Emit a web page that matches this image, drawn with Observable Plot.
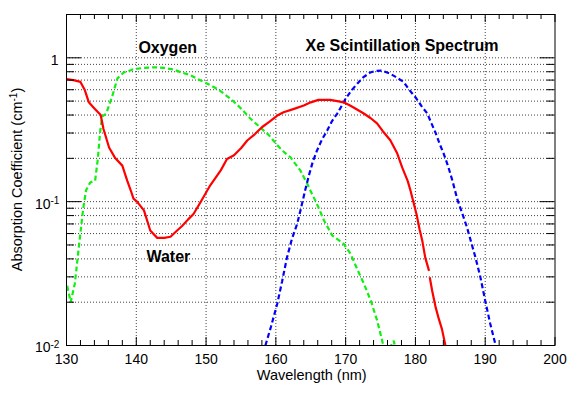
<!DOCTYPE html>
<html><head><meta charset="utf-8">
<script src="https://cdn.jsdelivr.net/npm/d3@7"></script>
<script src="https://cdn.jsdelivr.net/npm/@observablehq/plot@0.6"></script>
<style>body{margin:0;background:#fff} svg{display:block}</style>
</head><body><div id="chart"></div>
<script>
// ---- data (wavelength nm, absorption coefficient cm^-1) ----
const waterNm  = [130.0,131.0,132.0,132.6,133.2,133.9,134.9,135.3,136.1,137.0,138.0,138.7,139.2,139.6,140.1,141.1,142.0,143.0,144.0,144.9,145.7,146.6,147.4,148.2,149.2,150.6,152.1,153.0,154.0,155.0,155.9,157.0,158.0,159.1,160.2,161.1,162.5,164.0,165.0,166.1,167.8,168.8,169.7,170.5,171.2,172.6,173.6,174.5,175.3,176.4,177.4,178.1,178.9,179.3,179.7,180.2,180.6,181.0,181.4,181.95,NaN,182.05,182.4,182.9,183.35,183.8,184.3];
const waterAbs = [0.71,0.70,0.68,0.60,0.49,0.45,0.40,0.32,0.238,0.20,0.178,0.14,0.12,0.105,0.10,0.087,0.063,0.056,0.056,0.057,0.062,0.068,0.075,0.082,0.099,0.13,0.165,0.198,0.21,0.235,0.266,0.295,0.329,0.36,0.397,0.418,0.44,0.466,0.49,0.51,0.51,0.50,0.49,0.47,0.45,0.41,0.38,0.35,0.31,0.267,0.216,0.173,0.139,0.119,0.10,0.08,0.064,0.053,0.041,0.033,NaN,0.0298,0.024,0.0184,0.0153,0.013,0.01];

const oxygenNm  = [130.1,130.6,131.2,131.8,132.4,132.8,133.4,134.1,134.5,134.8,135.1,135.7,136.6,137.3,138.2,139.5,141.0,142.5,144.0,145.3,146.5,147.7,149.1,150.5,152.0,153.5,154.9,156.3,157.7,159.0,160.1,161.0,162.1,163.5,164.5,165.0,165.9,166.9,168.1,169.7,170.7,171.65,172.6,173.6,174.5,175.2,175.5,176.2,176.9,177.1];
const oxygenAbs = [0.026,0.020,0.027,0.05,0.09,0.12,0.136,0.14,0.2,0.3,0.39,0.41,0.55,0.72,0.79,0.83,0.85,0.86,0.85,0.83,0.79,0.76,0.70,0.65,0.59,0.52,0.45,0.38,0.33,0.29,0.25,0.225,0.203,0.165,0.133,0.118,0.096,0.074,0.058,0.051,0.0434,0.034,0.027,0.0205,0.015,0.011,0.0095,0.0094,0.0108,0.0096];

const xeNm  = [158.5,159.3,160.2,160.9,161.6,162.3,163.05,163.6,164.2,164.7,165.3,165.9,166.6,167.35,168.0,168.8,169.4,170.0,170.8,171.65,172.5,173.5,174.3,175.2,176.4,177.3,178.3,179.1,180.0,180.9,181.7,182.3,182.9,183.5,184.06,184.7,185.3,186.0,186.7,187.4,188.0,188.6,189.3,190.0,190.7,191.5];
const xeAbs = [0.01,0.0135,0.0195,0.028,0.041,0.055,0.07,0.09,0.12,0.15,0.19,0.227,0.27,0.312,0.36,0.41,0.46,0.52,0.59,0.66,0.73,0.79,0.81,0.815,0.775,0.73,0.68,0.60,0.532,0.46,0.41,0.35,0.30,0.25,0.215,0.175,0.14,0.104,0.083,0.066,0.052,0.041,0.030,0.0205,0.0143,0.01];

// ---- ticks / labels ----
const xMajor = [130,140,150,160,170,180,190,200];
const xMinor = [132,134,136,138,142,144,146,148,152,154,156,158,162,164,166,168,172,174,176,178,182,184,186,188,192,194,196,198];
const xGrid  = [140,150,160,170,180,190];
const yMajor = [0.01,0.1,1];
const yMinor = [0.02,0.03,0.04,0.05,0.06,0.07,0.08,0.09,0.2,0.3,0.4,0.5,0.6,0.7,0.8,0.9];
const yGrid  = [0.02,0.03,0.04,0.05,0.06,0.07,0.08,0.09,0.1,0.2,0.3,0.4,0.5,0.6,0.7,0.8,0.9,1];
const yLabelValues = [1, 0.1, 0.01];
const yLabelBase   = ["1","10","10"];
const yLabelSup    = ["","-1","-2"];
const annText = ["Oxygen","Xe Scintillation Spectrum","Water"];
const annNm   = [140.3,164.25,141.45];
const annAbs  = [1.18,1.22,0.0416];

// ---- build ----
const W = 581, H = 395, mL = 66, mR = 26.5, mT = 14, mB = 50;
const pw = W - mL - mR, ph = H - mT - mB;
const rows = (xs, ys) => xs.map((x, i) => ({x, y: ys[i]}));
const water = rows(waterNm, waterAbs), oxygen = rows(oxygenNm, oxygenAbs), xe = rows(xeNm, xeAbs);
const ylab = yLabelValues.map((v, i) => ({v, base: yLabelBase[i], sup: yLabelSup[i]}));
const ann = annText.map((t, i) => ({t, x: annNm[i], y: annAbs[i]}));
const grid = {stroke: "#000", strokeOpacity: 0.75, strokeWidth: 1, strokeDasharray: "1,2"};
const dashed = {strokeWidth: 2.2, strokeDasharray: "5,3", strokeLinecap: "butt", strokeLinejoin: "miter", clip: true};

const plot = Plot.plot({
  width: W, height: H, marginLeft: mL, marginRight: mR, marginTop: mT, marginBottom: mB,
  style: {fontFamily: "'Liberation Sans', Arial, Helvetica, sans-serif", fontSize: "14px", background: "#fff", color: "#000"},
  x: {domain: [130, 200], axis: null},
  y: {type: "log", domain: [0.01, 2], axis: null},
  marks: [
    Plot.gridX(xGrid, grid),
    Plot.gridY(yGrid, grid),
    Plot.line(oxygen, {x: "x", y: "y", stroke: "#11ee11", ...dashed}),
    Plot.line(xe, {x: "x", y: "y", stroke: "#0000ff", ...dashed}),
    Plot.line(water, {x: "x", y: "y", stroke: "#ff0000", strokeWidth: 2.2, strokeLinecap: "butt", clip: true}),
    // inward ticks
    Plot.tickX(xMajor, {x: d => d, insetTop: ph - 8, stroke: "#000"}),
    Plot.tickX(xMajor, {x: d => d, insetBottom: ph - 8, stroke: "#000"}),
    Plot.tickX(xMinor, {x: d => d, insetTop: ph - 5, stroke: "#000"}),
    Plot.tickX(xMinor, {x: d => d, insetBottom: ph - 5, stroke: "#000"}),
    Plot.tickY(yMajor, {y: d => d, insetRight: pw - 15, stroke: "#000"}),
    Plot.tickY(yMajor, {y: d => d, insetLeft: pw - 15, stroke: "#000"}),
    Plot.tickY(yMinor, {y: d => d, insetRight: pw - 8, stroke: "#000"}),
    Plot.tickY(yMinor, {y: d => d, insetLeft: pw - 8, stroke: "#000"}),
    Plot.frame({stroke: "#000", strokeWidth: 1}),
    // x tick labels
    Plot.text(xMajor, {x: d => d, text: d => String(d), frameAnchor: "bottom", lineAnchor: "middle", dy: 14, fontSize: 14}),
    // y tick labels
    Plot.text(ylab.filter(d => !d.sup), {y: "v", text: "base", frameAnchor: "left", textAnchor: "end", dx: -8, dy: 2.5, fontSize: 14}),
    Plot.text(ylab.filter(d => d.sup), {y: "v", text: "base", frameAnchor: "left", textAnchor: "end", dx: -16, dy: 2.5, fontSize: 14}),
    Plot.text(ylab.filter(d => d.sup), {y: "v", text: "sup", frameAnchor: "left", textAnchor: "start", dx: -16, dy: -1, fontSize: 10}),
    // axis title x
    Plot.text(["Wavelength (nm)"], {text: d => d, frameAnchor: "bottom", dy: 34, dx: 1, fontSize: 14.5}),
    // annotations
    Plot.text(ann, {x: "x", y: "y", text: "t", textAnchor: "start", fontSize: 16, fontWeight: "bold"})
  ]
});

// y axis title with superscript
const svg = d3.select(plot);
const t = svg.append("text")
  .attr("transform", `translate(22,${mT + ph / 2}) rotate(-90)`)
  .attr("text-anchor", "middle")
  .attr("fill", "#000")
  .style("font-size", "14.5px");
t.append("tspan").text("Absorption Coefficient (cm");
t.append("tspan").attr("dy", -5).style("font-size", "10px").text("-1");
t.append("tspan").attr("dy", 5).text(")");

document.getElementById("chart").append(plot);
</script>
</body></html>
